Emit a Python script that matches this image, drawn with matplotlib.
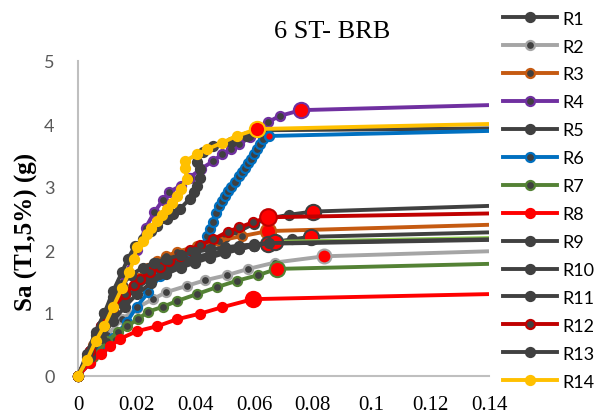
import matplotlib
matplotlib.use("Agg")
import matplotlib.pyplot as plt

# ---------------- data ----------------
x_max = 0.14
x_ticks = [0, 0.02, 0.04, 0.06, 0.08, 0.10, 0.12, 0.14]
x_tick_labels = ["0", "0.02", "0.04", "0.06", "0.08", "0.1", "0.12", "0.14"]
y_ticks = [0, 1, 2, 3, 4, 5]

names = ["R1", "R2", "R3", "R4", "R5", "R6", "R7", "R8", "R9", "R10", "R11", "R12", "R13", "R14"]

R1_x = [0, 0.004, 0.008, 0.012, 0.016, 0.02, 0.025, 0.03, 0.035, 0.04, 0.045, 0.05, 0.055, 0.06, 0.065, 0.072, 0.080]
R1_y = [0, 0.4, 0.75, 1.05, 1.3, 1.48, 1.65, 1.78, 1.9, 2.0, 2.1, 2.2, 2.3, 2.42, 2.5, 2.56, 2.61]
R1_end = 2.70

R2_x = [0, 0.005, 0.01, 0.015, 0.02, 0.0255, 0.030, 0.037, 0.0433, 0.0507, 0.058, 0.067, 0.0838]
R2_y = [0, 0.35, 0.65, 0.9, 1.08, 1.22, 1.33, 1.43, 1.52, 1.6, 1.7, 1.8, 1.9]
R2_end = 1.98

R3_x = [0, 0.005, 0.01, 0.015, 0.02, 0.024, 0.027, 0.030, 0.0337, 0.0405, 0.048, 0.0558, 0.0647]
R3_y = [0, 0.5, 0.95, 1.3, 1.55, 1.72, 1.83, 1.9, 1.97, 2.06, 2.15, 2.22, 2.30]
R3_end = 2.40

R4_x = [0, 0.004, 0.008, 0.012, 0.016, 0.02, 0.023, 0.026, 0.029, 0.031, 0.035, 0.038, 0.042, 0.046,
        0.049, 0.052, 0.055, 0.0586, 0.061, 0.0647, 0.0688, 0.076]
R4_y = [0, 0.4, 0.8, 1.2, 1.6, 2.0, 2.35, 2.6, 2.8, 2.92, 3.02, 3.15, 3.29, 3.41,
        3.52, 3.6, 3.68, 3.79, 3.9, 4.03, 4.13, 4.22]
R4_end = 4.30

R5_x = [0, 0.003, 0.006, 0.009, 0.012, 0.015, 0.017, 0.0194, 0.022, 0.025, 0.027, 0.0303, 0.0325, 0.0347,
        0.038, 0.0395, 0.0405, 0.0416, 0.0416, 0.0405, 0.0426, 0.046, 0.052, 0.0575, 0.062]
R5_y = [0, 0.3, 0.65, 1.0, 1.35, 1.65, 1.86, 2.06, 2.17, 2.3, 2.38, 2.49, 2.57, 2.65,
        2.81, 2.92, 3.02, 3.15, 3.29, 3.40, 3.55, 3.65, 3.71, 3.81, 3.9]
R5_end = 3.93

R6_x = [0, 0.004, 0.008, 0.012, 0.0167, 0.02, 0.024, 0.028, 0.032, 0.036, 0.040, 0.042, 0.044, 0.045,
        0.046, 0.047, 0.048, 0.049, 0.050, 0.051, 0.052, 0.0535, 0.055, 0.056, 0.057, 0.058, 0.059,
        0.060, 0.061, 0.062, 0.063, 0.065]
R6_y = [0, 0.2, 0.4, 0.6, 0.86, 1.1, 1.33, 1.59, 1.75, 1.85, 1.95, 2.06, 2.22, 2.34,
        2.45, 2.58, 2.70, 2.78, 2.85, 2.93, 3.0, 3.08, 3.17, 3.24, 3.3, 3.38, 3.45,
        3.52, 3.6, 3.68, 3.76, 3.81]
R6_end = 3.89

R7_x = [0, 0.005, 0.01, 0.0135, 0.0167, 0.0204, 0.0238, 0.029, 0.0337, 0.0405, 0.0473, 0.054, 0.0613, 0.0678]
R7_y = [0, 0.3, 0.55, 0.7, 0.79, 0.9, 1.02, 1.1, 1.19, 1.3, 1.41, 1.51, 1.6, 1.70]
R7_end = 1.78

R8_x = [0, 0.004, 0.008, 0.011, 0.0143, 0.020, 0.027, 0.0337, 0.0416, 0.049, 0.0596]
R8_y = [0, 0.2, 0.35, 0.47, 0.59, 0.71, 0.79, 0.9, 0.99, 1.09, 1.22]
R8_end = 1.30

R9_x = [0, 0.004, 0.008, 0.012, 0.016, 0.02, 0.025, 0.03, 0.035, 0.04, 0.045, 0.05, 0.055, 0.06, 0.066, 0.073, 0.0794]
R9_y = [0, 0.35, 0.7, 1.0, 1.22, 1.4, 1.55, 1.67, 1.77, 1.85, 1.91, 1.97, 2.02, 2.07, 2.12, 2.17, 2.21]
R9_end = 2.28

R10_x = [0, 0.004, 0.008, 0.012, 0.016, 0.02, 0.024, 0.028, 0.032, 0.036, 0.04, 0.045, 0.05, 0.055, 0.06, 0.0647]
R10_y = [0, 0.4, 0.8, 1.1, 1.32, 1.5, 1.62, 1.71, 1.78, 1.84, 1.89, 1.94, 1.99, 2.03, 2.07, 2.10]
R10_end = 2.16

R11_x = [0, 0.004, 0.008, 0.012, 0.016, 0.02, 0.025, 0.03, 0.035, 0.04, 0.045, 0.05, 0.055, 0.06, 0.067]
R11_y = [0, 0.3, 0.6, 0.88, 1.1, 1.3, 1.48, 1.62, 1.72, 1.8, 1.88, 1.95, 2.01, 2.07, 2.13]
R11_end = 2.19

R12_x = [0, 0.004, 0.008, 0.012, 0.016, 0.019, 0.021, 0.0245, 0.028, 0.031, 0.0347, 0.038, 0.0416,
         0.046, 0.051, 0.055, 0.0596, 0.0647]
R12_y = [0, 0.4, 0.8, 1.1, 1.3, 1.45, 1.54, 1.65, 1.73, 1.83, 1.9, 2.0, 2.08,
         2.17, 2.29, 2.36, 2.44, 2.52]
R12_end = 2.58

R13_x = [0, 0.003, 0.006, 0.009, 0.012, 0.015, 0.018, 0.022, 0.026, 0.03, 0.035, 0.04, 0.045, 0.05, 0.055, 0.06, 0.065]
R13_y = [0, 0.35, 0.7, 1.0, 1.25, 1.45, 1.6, 1.72, 1.8, 1.86, 1.92, 1.97, 2.01, 2.04, 2.07, 2.09, 2.11]
R13_end = 2.17

R14_x = [0, 0.003, 0.006, 0.009, 0.012, 0.015, 0.0175, 0.019, 0.020, 0.022, 0.0235, 0.025, 0.027, 0.0285,
         0.0303, 0.032, 0.0337, 0.035, 0.037, 0.0365, 0.0365, 0.0405, 0.044, 0.049, 0.054, 0.061]
R14_y = [0, 0.25, 0.55, 0.8, 1.1, 1.4, 1.65, 1.85, 2.05, 2.15, 2.25, 2.35, 2.46, 2.55,
         2.65, 2.75, 2.86, 2.97, 3.13, 3.3, 3.41, 3.52, 3.6, 3.7, 3.81, 3.92]
R14_end = 4.00

# ---------------- styles ----------------
DARK = "#404040"
line_colors = [DARK, "#A5A5A5", "#C55A11", "#7030A0", DARK, "#0070C0", "#548235",
               "#FF0000", DARK, DARK, DARK, "#C00000", DARK, "#FFC000"]
face_colors = [DARK, DARK, DARK, DARK, DARK, DARK, DARK,
               "#FF0000", DARK, DARK, DARK, DARK, DARK, "#FFC000"]
flat_colors = list(line_colors)
flat_colors[10] = "#92D050"
collapse_size = [11, 10, 11, 11, 0, 6, 11, 11, 11, 11, 11, 12, 0, 11]

series = [
    (R1_x, R1_y, R1_end), (R2_x, R2_y, R2_end), (R3_x, R3_y, R3_end), (R4_x, R4_y, R4_end),
    (R5_x, R5_y, R5_end), (R6_x, R6_y, R6_end), (R7_x, R7_y, R7_end), (R8_x, R8_y, R8_end),
    (R9_x, R9_y, R9_end), (R10_x, R10_y, R10_end), (R11_x, R11_y, R11_end), (R12_x, R12_y, R12_end),
    (R13_x, R13_y, R13_end), (R14_x, R14_y, R14_end),
]

fig = plt.figure(figsize=(5.98, 4.14), dpi=100)
ax = fig.add_axes([78 / 598, 1 - 377 / 414, (489 - 78) / 598, (377 - 62) / 414])

handles = []
for i, (xs, ys, yend) in enumerate(series):
    z = 2 + i * 0.1
    # flat tail after collapse point
    ax.plot([xs[-1], x_max], [ys[-1], yend], color=flat_colors[i], lw=2.8,
            solid_capstyle="butt", zorder=z)
    h, = ax.plot(xs, ys, color=line_colors[i], lw=2.8, marker="o", markersize=6.5,
                 markerfacecolor=face_colors[i], markeredgecolor=line_colors[i],
                 markeredgewidth=1.6, label=names[i], zorder=z + 0.02, clip_on=False)
    handles.append(h)
    if collapse_size[i] > 0:
        ax.plot([xs[-1]], [ys[-1]], marker="o", markersize=collapse_size[i],
                markerfacecolor="#FF0000", markeredgecolor=line_colors[i],
                markeredgewidth=1.5, linestyle="none", zorder=z + 0.05)

ax.set_xlim(0, x_max)
ax.set_ylim(0, 5)
ax.set_xticks(x_ticks)
ax.set_xticklabels(x_tick_labels, family="Liberation Serif", fontsize=15, color="black")
ax.set_yticks(y_ticks)
ax.set_yticklabels([str(v) for v in y_ticks], family="Lato", fontsize=13, color="#595959")
ax.tick_params(axis="both", length=0)
ax.tick_params(axis="x", pad=14)
ax.tick_params(axis="y", pad=17)
for s in ["top", "right"]:
    ax.spines[s].set_visible(False)
for s in ["left", "bottom"]:
    ax.spines[s].set_color("#BFBFBF")
    ax.spines[s].set_linewidth(1.5)

ax.set_ylabel("Sa (T1,5%) (g)", family="Liberation Serif", fontweight="bold", fontsize=18)
ax.yaxis.set_label_coords(-0.097, 0.46)

fig.text(332 / 598, 1 - 32 / 414, "6 ST- BRB", family="Liberation Serif", fontsize=19,
         ha="center", va="center")

leg = fig.legend(handles=handles, loc="upper left", bbox_to_anchor=(499 / 598, 1 - 8 / 414),
                 frameon=False, prop={"family": "Lato", "size": 13}, handlelength=3.0,
                 labelspacing=0.66, handletextpad=0.3, borderaxespad=0, borderpad=0.2)

fig.savefig("out.png", dpi=100)
